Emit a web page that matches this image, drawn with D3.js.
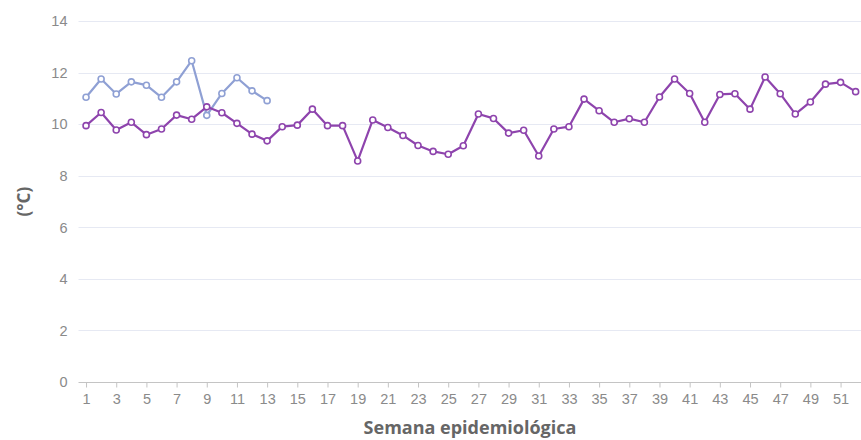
<!DOCTYPE html>
<html>
<head>
<meta charset="utf-8">
<script src="https://cdn.jsdelivr.net/npm/d3@7"></script>
<style>
  html, body { margin: 0; padding: 0; background: #fff; }
  svg { display: block; font-family: "Open Sans", "Noto Sans", sans-serif; }
</style>
</head>
<body>
<svg id="chart" width="861" height="440"></svg>
<script>
// Weekly mean temperature (°C) by epidemiological week
const weeks = d3.range(1, 53);
const yTicks = [0, 2, 4, 6, 8, 10, 12, 14];
const xTickWeeks = d3.range(1, 53, 2);

// Previous year, full 52 weeks
const seriesPrev = [
  9.95, 10.46, 9.78, 10.08, 9.60, 9.82, 10.36, 10.20, 10.68, 10.45,
  10.04, 9.62, 9.36, 9.91, 9.97, 10.59, 9.95, 9.95, 8.58, 10.17,
  9.88, 9.57, 9.18, 8.95, 8.84, 9.17, 10.40, 10.23, 9.66, 9.77,
  8.77, 9.82, 9.91, 10.98, 10.53, 10.08, 10.22, 10.08, 11.06, 11.76,
  11.20, 10.08, 11.16, 11.19, 10.59, 11.84, 11.19, 10.40, 10.87, 11.56,
  11.63, 11.27
];
// Current year, weeks 1–13
const seriesCurr = [
  11.05, 11.76, 11.18, 11.65, 11.52, 11.05, 11.65, 12.47, 10.35, 11.20,
  11.81, 11.30, 10.92
];

const colorPrev = "#8e44ad";
const colorCurr = "#8fa0d4";

const svg = d3.select("#chart");
const plotLeft = 78.5, plotRight = 863.2, plotTop = 21.3, plotBottom = 382;

const x = d3.scalePoint().domain(weeks).range([plotLeft, plotRight]).padding(0.5);
const y = d3.scaleLinear().domain([0, 14]).range([plotBottom, plotTop]);

// Horizontal grid lines
svg.append("g")
  .selectAll("line")
  .data(yTicks.filter(d => d > 0))
  .join("line")
  .attr("x1", plotLeft).attr("x2", 861)
  .attr("y1", d => Math.round(y(d)) + 0.5).attr("y2", d => Math.round(y(d)) + 0.5)
  .attr("stroke", "#e6e9f3").attr("stroke-width", 1);

// Y axis labels
const yAxis = svg.append("g")
  .attr("transform", `translate(${plotLeft},0)`)
  .call(d3.axisLeft(y).tickValues(yTicks).tickSize(0).tickPadding(11));
yAxis.select(".domain").remove();
yAxis.selectAll("text")
  .attr("fill", "#8a8a8a").style("font-size", "14.5px");

// X axis
const xAxis = svg.append("g")
  .attr("transform", `translate(0,${plotBottom + 0.5})`)
  .call(d3.axisBottom(x).tickValues(xTickWeeks).tickSize(5).tickPadding(6));
xAxis.select(".domain").attr("d", `M${plotLeft},0H861`).attr("stroke", "#c4c4c4");
xAxis.selectAll(".tick line").attr("stroke", "#c4c4c4");
xAxis.selectAll("text").attr("fill", "#8a8a8a").style("font-size", "14.5px");

// Axis titles
svg.append("text")
  .attr("x", 470).attr("y", 434)
  .attr("text-anchor", "middle")
  .attr("fill", "#666").style("font-size", "18px").style("font-weight", "bold")
  .text("Semana epidemiológica");

svg.append("text")
  .attr("transform", `translate(30,${(plotTop + plotBottom) / 2}) rotate(-90)`)
  .attr("text-anchor", "middle")
  .attr("fill", "#666").style("font-size", "17px").style("font-weight", "bold")
  .text("(°C)");

// Lines with hollow circle markers
const line = d3.line().x((d, i) => x(weeks[i])).y(d => y(d));

function drawSeries(values, color) {
  const g = svg.append("g");
  g.append("path")
    .datum(values)
    .attr("d", line)
    .attr("fill", "none")
    .attr("stroke", color)
    .attr("stroke-width", 2.2)
    .attr("stroke-linejoin", "round");
  g.selectAll("circle")
    .data(values)
    .join("circle")
    .attr("cx", (d, i) => x(weeks[i]))
    .attr("cy", d => y(d))
    .attr("r", 3)
    .attr("fill", "#fff")
    .attr("stroke", color)
    .attr("stroke-width", 1.6);
}

drawSeries(seriesCurr, colorCurr);
drawSeries(seriesPrev, colorPrev);
</script>
</body>
</html>
